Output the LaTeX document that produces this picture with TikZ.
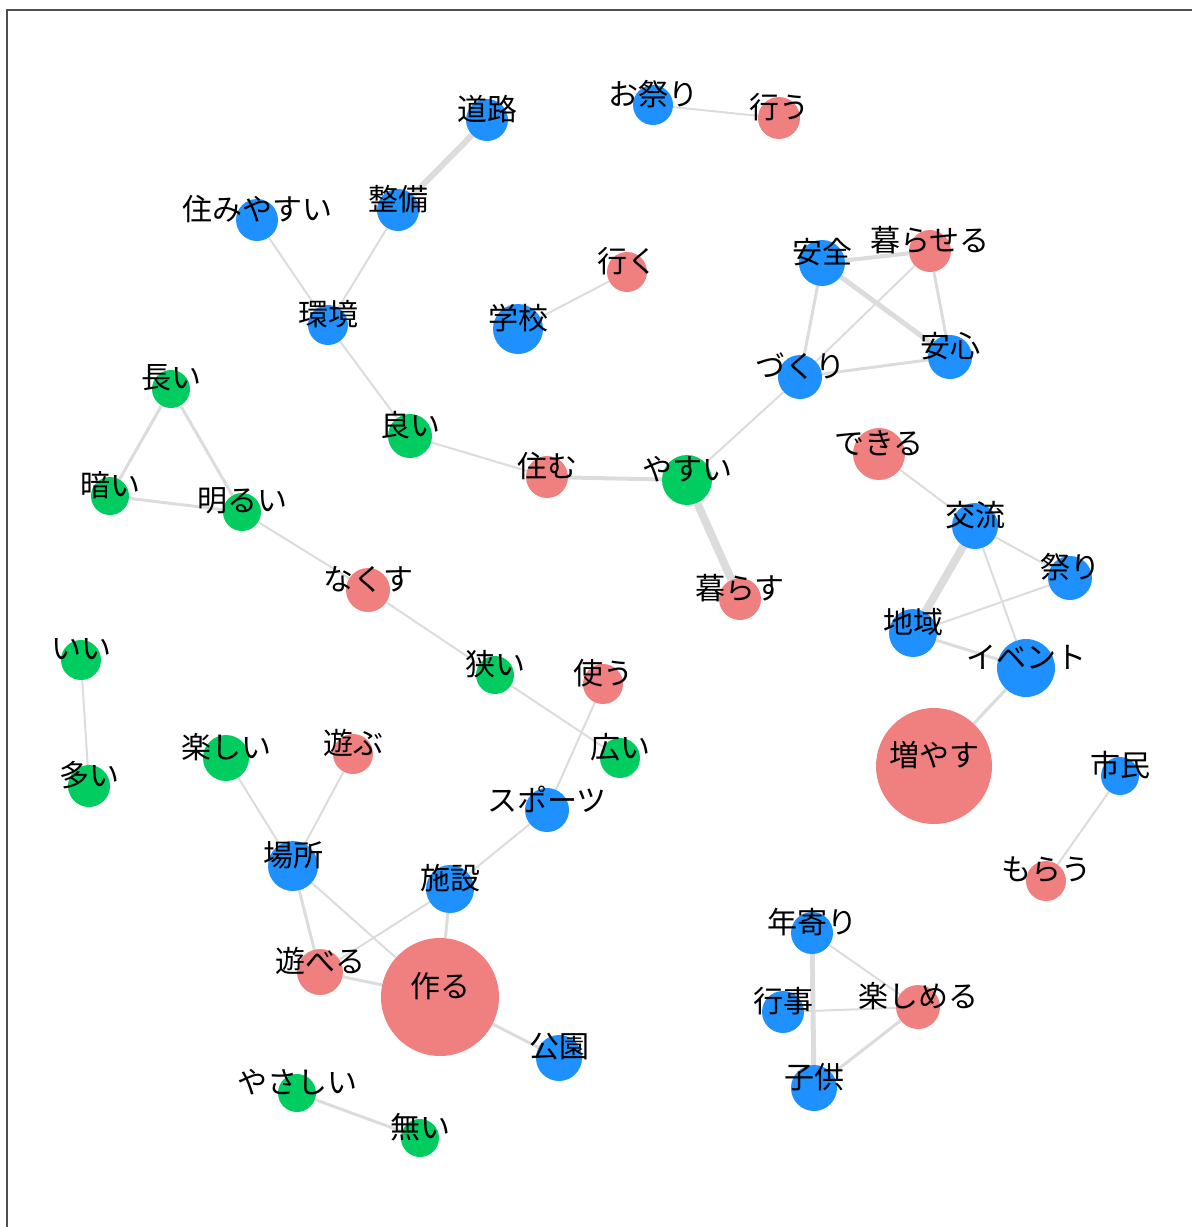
\documentclass[tikz,border=0pt]{standalone}
\usepackage{fontspec}
\newfontfamily\jpfont{Noto Sans CJK JP}
\usetikzlibrary{backgrounds}
\definecolor{nblue}{RGB}{30,144,255}
\definecolor{nred}{RGB}{240,128,128}
\definecolor{ngreen}{RGB}{0,204,96}
\definecolor{lnkgray}{RGB}{220,220,220}
\definecolor{framegray}{RGB}{80,80,80}
\tikzset{
  vert/.style={circle,inner sep=0pt,draw=none},
  lbl/.style={inner sep=0pt,font=\jpfont\fontsize{30}{30}\selectfont,text=black},
  lnk/.style={draw=lnkgray,line width=2pt},
}
\newcommand\wnode[6]{%
  \node[vert,fill=#5,minimum size={2*#4pt}] (#1) at (#2pt,-#3pt) {};
  \node[lbl,yshift=11pt] (#1-l) at (#2pt,-#3pt) {#6};}
\begin{document}
\begin{tikzpicture}
\useasboundingbox (0,0) rectangle (1192pt,-1227pt);
\draw[framegray,line width=2.5pt] (7pt,-1240pt) -- (7pt,-10pt) -- (1200pt,-10pt);
% blue
\wnode{douro}{487}{120}{21}{nblue}{道路}
\wnode{omatsuri}{653}{105}{20}{nblue}{お祭り}
\wnode{sumiyasui}{257}{220}{21}{nblue}{住みやすい}
\wnode{seibi}{398}{210}{21}{nblue}{整備}
\wnode{kankyo}{328}{325}{20}{nblue}{環境}
\wnode{gakko}{518}{329}{25}{nblue}{学校}
\wnode{anzen}{822}{263}{23}{nblue}{安全}
\wnode{anshin}{950}{357}{22}{nblue}{安心}
\wnode{zukuri}{800}{377}{22}{nblue}{づくり}
\wnode{koryu}{975}{526}{23}{nblue}{交流}
\wnode{matsuri}{1070}{578}{22}{nblue}{祭り}
\wnode{chiiki}{913}{633}{24}{nblue}{地域}
\wnode{event}{1026}{668}{29}{nblue}{イベント}
\wnode{shimin}{1120}{776}{19}{nblue}{市民}
\wnode{sports}{547}{810}{22}{nblue}{スポーツ}
\wnode{shisetsu}{450}{889}{24}{nblue}{施設}
\wnode{basho}{293}{866}{25}{nblue}{場所}
\wnode{koen}{559}{1058}{23}{nblue}{公園}
\wnode{toshiyori}{812}{933}{21}{nblue}{年寄り}
\wnode{gyoji}{783}{1012}{21}{nblue}{行事}
\wnode{kodomo}{814}{1088}{23}{nblue}{子供}
% red
\wnode{okonau}{779}{118}{21}{nred}{行う}
\wnode{iku}{627}{272}{20}{nred}{行く}
\wnode{kuraseru}{930}{251}{21}{nred}{暮らせる}
\wnode{dekiru}{879}{454}{26}{nred}{できる}
\wnode{sumu}{547}{477}{21}{nred}{住む}
\wnode{nakusu}{368}{590}{22}{nred}{なくす}
\wnode{kurasu}{740}{599}{21}{nred}{暮らす}
\wnode{tsukau}{603}{684}{20}{nred}{使う}
\wnode{asobu}{353}{754}{20}{nred}{遊ぶ}
\wnode{fuyasu}{934}{766}{58}{nred}{増やす}
\wnode{morau}{1046}{881}{20}{nred}{もらう}
\wnode{asoberu}{320}{972}{23}{nred}{遊べる}
\wnode{tsukuru}{440}{997}{59}{nred}{作る}
\wnode{tanoshimeru}{918}{1007}{22}{nred}{楽しめる}
% green
\wnode{nagai}{171}{389}{19}{ngreen}{長い}
\wnode{kurai}{110}{496}{19}{ngreen}{暗い}
\wnode{akarui}{242}{512}{19}{ngreen}{明るい}
\wnode{yoi}{410}{436}{22}{ngreen}{良い}
\wnode{yasui}{687}{480}{25}{ngreen}{やすい}
\wnode{ii}{81}{660}{20}{ngreen}{いい}
\wnode{ooi}{89}{786}{21}{ngreen}{多い}
\wnode{semai}{495}{675}{19}{ngreen}{狭い}
\wnode{hiroi}{620}{758}{20}{ngreen}{広い}
\wnode{tanoshii}{226}{758}{23}{ngreen}{楽しい}
\wnode{yasashii}{297}{1093}{19}{ngreen}{やさしい}
\wnode{nai}{420}{1138}{19}{ngreen}{無い}
\begin{pgfonlayer}{background}
\draw[lnk,line width=6pt] (douro) -- (seibi);
\draw[lnk] (omatsuri) -- (okonau);
\draw[lnk] (sumiyasui) -- (kankyo);
\draw[lnk] (seibi) -- (kankyo);
\draw[lnk] (gakko) -- (iku);
\draw[lnk] (kankyo) -- (yoi);
\draw[lnk] (yoi) -- (sumu);
\draw[lnk,line width=4pt] (sumu) -- (yasui);
\draw[lnk] (yasui) -- (zukuri);
\draw[lnk,line width=8pt] (yasui) -- (kurasu);
\draw[lnk,line width=4pt] (anzen) -- (kuraseru);
\draw[lnk,line width=5pt] (anzen) -- (anshin);
\draw[lnk,line width=3pt] (anzen) -- (zukuri);
\draw[lnk] (kuraseru) -- (zukuri);
\draw[lnk,line width=3pt] (kuraseru) -- (anshin);
\draw[lnk,line width=3pt] (zukuri) -- (anshin);
\draw[lnk] (dekiru) -- (koryu);
\draw[lnk] (koryu) -- (matsuri);
\draw[lnk,line width=8pt] (koryu) -- (chiiki);
\draw[lnk] (koryu) -- (event);
\draw[lnk] (chiiki) -- (matsuri);
\draw[lnk,line width=3pt] (chiiki) -- (event);
\draw[lnk,line width=3pt] (event) -- (fuyasu);
\draw[lnk] (shimin) -- (morau);
\draw[lnk,line width=3pt] (nagai) -- (kurai);
\draw[lnk,line width=3pt] (nagai) -- (akarui);
\draw[lnk,line width=3pt] (kurai) -- (akarui);
\draw[lnk] (akarui) -- (nakusu);
\draw[lnk] (nakusu) -- (semai);
\draw[lnk] (semai) -- (hiroi);
\draw[lnk] (tsukau) -- (sports);
\draw[lnk] (sports) -- (shisetsu);
\draw[lnk] (shisetsu) -- (asoberu);
\draw[lnk,line width=3pt] (shisetsu) -- (tsukuru);
\draw[lnk] (basho) -- (asobu);
\draw[lnk] (basho) -- (tanoshii);
\draw[lnk,line width=3pt] (basho) -- (asoberu);
\draw[lnk] (basho) -- (tsukuru);
\draw[lnk,line width=3pt] (asoberu) -- (tsukuru);
\draw[lnk,line width=3pt] (tsukuru) -- (koen);
\draw[lnk] (ii) -- (ooi);
\draw[lnk,line width=3pt] (yasashii) -- (nai);
\draw[lnk] (toshiyori) -- (tanoshimeru);
\draw[lnk,line width=5pt] (toshiyori) -- (kodomo);
\draw[lnk] (gyoji) -- (tanoshimeru);
\draw[lnk,line width=3pt] (kodomo) -- (tanoshimeru);
\end{pgfonlayer}
\end{tikzpicture}
\end{document}
